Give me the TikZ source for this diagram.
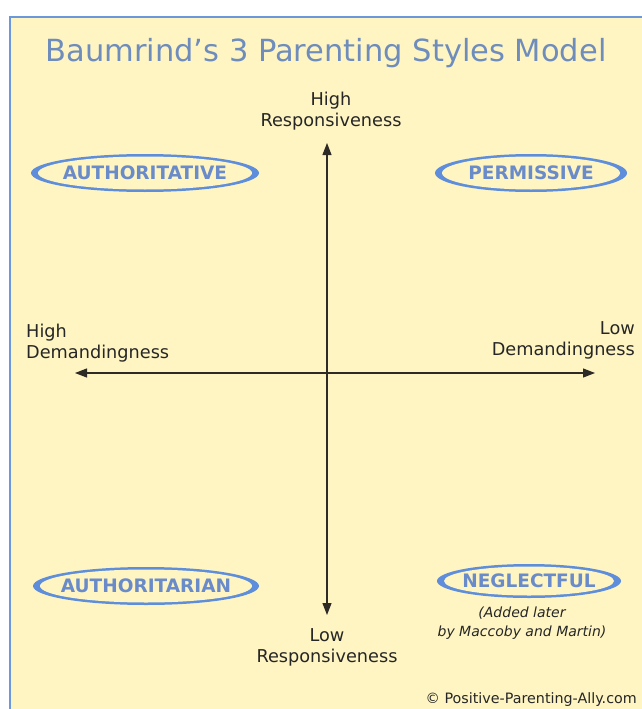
\documentclass[tikz,border=0pt]{standalone}
\usepackage{fontspec}
\setmainfont{DejaVu Sans}
\usetikzlibrary{positioning,arrows.meta,shapes.geometric}
\definecolor{paper}{HTML}{FEF5C3}
\definecolor{frameblue}{HTML}{6D97DB}
\definecolor{titleblue}{HTML}{6E8DBD}
\definecolor{ringblue}{HTML}{5E8EDB}
\definecolor{styleblue}{HTML}{6A8BC9}
\definecolor{axisgray}{HTML}{2E2A26}
\tikzstyle{ring} = [ellipse, 
    fill=ringblue, 
    inner sep=0pt]
\tikzstyle{stylename} = [ellipse, 
    fill=paper, 
    inner ysep=0pt, inner xsep=-40pt, 
    text=styleblue, 
    font=\fontsize{18.5}{20}\selectfont\bfseries]
\tikzstyle{axis} = [draw=axisgray, line width=1.2pt, 
    {Triangle[length=12pt,width=9pt]}-{Triangle[length=12pt,width=9pt]}]

\begin{document}
\begin{tikzpicture}[x=1pt, y=-1pt,
    axislabel/.style={align=center, 
    font=\fontsize{17.7}{21}\selectfont, 
    text=black!85, 
    inner sep=1pt},
    note/.style={align=center, 
    font=\fontsize{14}{19}\selectfont\itshape, 
    text=black!85, 
    inner sep=1pt}
    ]
  \useasboundingbox (0,0) rectangle (642,709);
  \fill[white] (0,0) rectangle (642,709);
  \fill[paper] (10,17) rectangle (642,709);
  \draw[frameblue, line width=2pt] (10,709) -- (10,17) -- (642,17);
  \node[anchor=base, font=\fontsize{30.5}{36}\selectfont, text=titleblue] (title) at (326,62) {Baumrind’s 3 Parenting Styles Model};
  % axes
  \coordinate (respHi) at (327,143);
  \coordinate (respLo) at (327,615);
  \coordinate (demHi) at (75,373);
  \coordinate (demLo) at (595,373);
  \draw [axis] (respLo) -- (respHi);
  \draw [axis] (demHi) -- (demLo);
  \node [axislabel, above=12pt of respHi, xshift=4pt] (hiResp) {High\\Responsiveness};
  \node [axislabel, below=12pt of respLo] (loResp) {Low\\Responsiveness};
  \node [axislabel, align=left, above right=10pt and -50pt of demHi] (hiDem) {High\\Demandingness};
  \node [axislabel, align=right, above left=13pt and -41pt of demLo] (loDem) {Low\\Demandingness};
  % the styles
  \node [ring, minimum width=228pt, minimum height=38pt] (authRing) at (145,173) {};
  \node [stylename, minimum width=214pt, minimum height=33pt] (auth) at (authRing) {AUTHORITATIVE};
  \node [ring, minimum width=192pt, minimum height=38pt] (permRing) at (531,173) {};
  \node [stylename, minimum width=178pt, minimum height=33pt] (perm) at (permRing) {PERMISSIVE};
  \node [ring, minimum width=226pt, minimum height=38pt] (autRing) at (146,586) {};
  \node [stylename, minimum width=212pt, minimum height=33pt] (aut) at (autRing) {AUTHORITARIAN};
  \node [ring, minimum width=184pt, minimum height=34pt] (negRing) at (529,581) {};
  \node [stylename, minimum width=170pt, minimum height=29pt] (neg) at (negRing) {NEGLECTFUL};
  \node [note, below=7pt of negRing, xshift=-7pt] (added) {(Added later\\by Maccoby and Martin)};
  \node [anchor=base east, inner sep=0pt, font=\fontsize{14.3}{16}\selectfont, text=black!85] (credit) at (637,703) {© Positive-Parenting-Ally.com};
\end{tikzpicture}
\end{document}
